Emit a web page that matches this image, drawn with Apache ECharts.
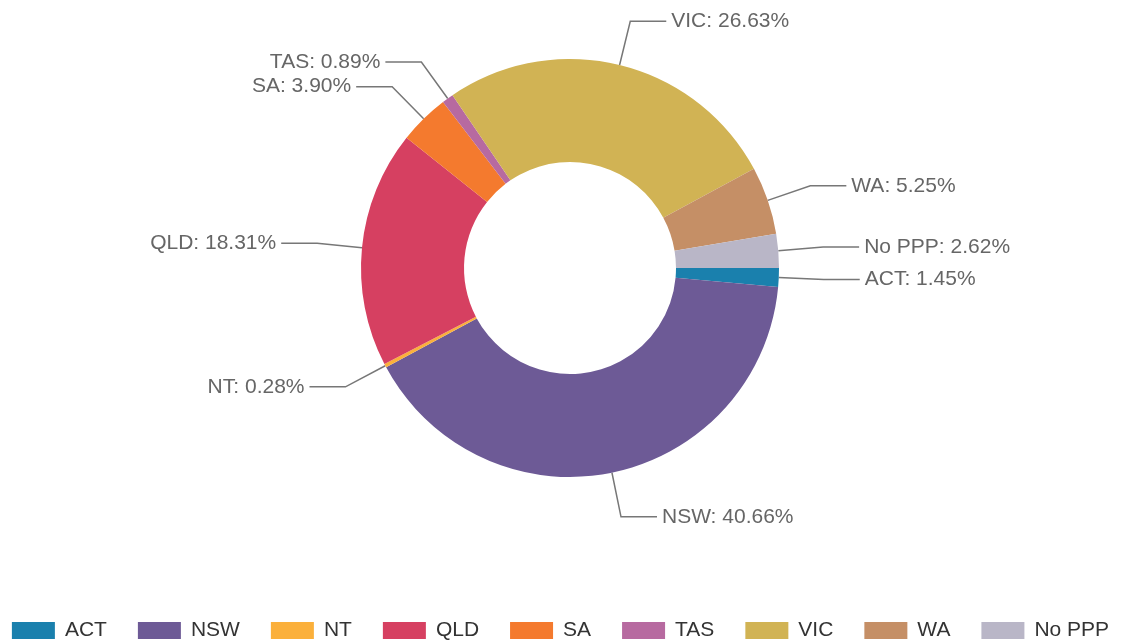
<!DOCTYPE html>
<html><head><meta charset="utf-8">
<script src="https://cdn.jsdelivr.net/npm/echarts@6/dist/echarts.min.js"></script>
<style>html,body{margin:0;padding:0;background:#fff}#c{width:1121px;height:643px}</style>
</head><body><div id="c"></div>
<script>
const categories = ['ACT','NSW','NT','QLD','SA','TAS','VIC','WA','No PPP'];
const values = [1.45, 40.66, 0.28, 18.31, 3.90, 0.89, 26.63, 5.25, 2.62];
const colors = ['#1a80ad','#6d5a96','#fbb03b','#d64061','#f47a2e','#b76aa0','#d1b354','#c58f66','#b9b6c7'];
const chart = echarts.init(document.getElementById('c'));
chart.setOption({
  animation: false,
  color: colors,
  legend: {
    data: categories,
    top: 620,
    left: 'center',
    padding: 0,
    itemWidth: 43,
    itemHeight: 17,
    itemGap: 31,
    icon: 'rect',
    textStyle: {fontFamily: 'Liberation Sans, Arial', fontSize: 21, color: '#333', padding: [0, 0, 0, 5]}
  },
  series: [{
    type: 'pie',
    center: [570, 268],
    radius: [106, 209],
    startAngle: 0,
    clockwise: true,
    data: categories.map((c, i) => ({name: c, value: values[i]})),
    label: {
      formatter: p => p.name + ': ' + p.value.toFixed(2) + '%',
      fontFamily: 'Liberation Sans, Arial',
      fontSize: 21,
      color: '#666'
    },
    labelLine: {length: 45, length2: 36, lineStyle: {color: '#777', width: 1.5}},
    itemStyle: {borderWidth: 0}
  }]
});
</script></body></html>
